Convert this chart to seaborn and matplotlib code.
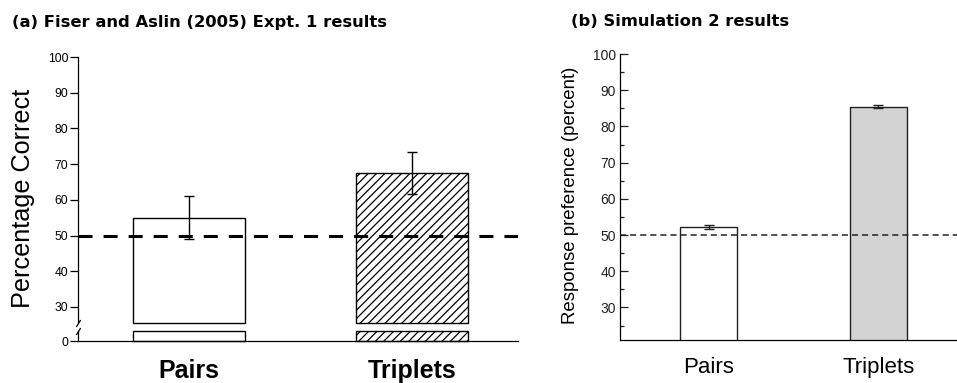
import matplotlib
matplotlib.use("Agg")
import matplotlib.pyplot as plt
import seaborn as sns
import pandas as pd
import numpy as np

# ---- data ----
categories = ["Pairs", "Triplets"]
fiser_means = [55.0, 67.5]
fiser_errs = [6.0, 6.0]
sim_means = [52.2, 85.4]
sim_errs = [0.5, 0.4]
left_yticks = [30, 40, 50, 60, 70, 80, 90, 100]
right_yticks = [30, 40, 50, 60, 70, 80, 90, 100]
chance = 50

sns.set_theme(style="ticks")
plt.rcParams["font.family"] = ["Liberation Sans", "DejaVu Sans"]
plt.rcParams["hatch.linewidth"] = 0.9
plt.rcParams["axes.linewidth"] = 0.9
for k in ("text.color", "axes.labelcolor", "xtick.color", "ytick.color", "axes.edgecolor"):
    plt.rcParams[k] = "black"

W, H = 957, 383
fig = plt.figure(figsize=(W / 100, H / 100), dpi=100)


def px_axes(x0, y0, x1, y1):
    return fig.add_axes([x0 / W, 1 - y1 / H, (x1 - x0) / W, (y1 - y0) / H])


df_a = pd.DataFrame({"cond": categories, "value": fiser_means})
df_b = pd.DataFrame({"cond": categories, "value": sim_means})

# ---------------- panel (a): broken axis ----------------
BREAK_LO = 25.5
LOW_TOP = 2.8
ax_top = px_axes(78, 57, 518, 323)
ax_bot = px_axes(78, 331, 518, 341)

for ax in (ax_top, ax_bot):
    sns.barplot(data=df_a, x="cond", y="value", hue="cond", palette=["white", "white"],
                legend=False, width=0.5, saturation=1, edgecolor="black", linewidth=1.0,
                errorbar=None, ax=ax)
    ax.set_xlim(-0.498, 1.475)

for i, p in enumerate(ax_top.patches):
    h = p.get_height()
    p.set_y(BREAK_LO)
    p.set_height(h - BREAK_LO)
    p.set_clip_on(False)
    if i == 1:
        p.set_hatch("////")
for i, p in enumerate(ax_bot.patches):
    p.set_height(LOW_TOP)
    p.set_clip_on(False)
    if i == 1:
        p.set_hatch("////")

ax_top.errorbar(x=[0, 1], y=fiser_means, yerr=fiser_errs, fmt="none", ecolor="black",
                elinewidth=1.0, capsize=3.6, capthick=1.0, zorder=5)
ax_top.axhline(chance, color="black", lw=2.2, ls=(0, (4.6, 3.6)), zorder=6)

ax_top.set_ylim(BREAK_LO, 100)
ax_bot.set_ylim(0, LOW_TOP)
ax_top.set_yticks(left_yticks)
ax_bot.set_yticks([0])
for ax in (ax_top, ax_bot):
    ax.tick_params(axis="y", direction="out", length=6, width=0.9, pad=1, labelsize=8.7,
                   colors="black")
    ax.spines["top"].set_visible(False)
    ax.spines["right"].set_visible(False)
    ax.set_xlabel("")
    ax.set_ylabel("")
    ax.set_facecolor("white")
ax_top.spines["bottom"].set_visible(False)
ax_top.tick_params(axis="x", bottom=False, labelbottom=False)
ax_bot.tick_params(axis="x", length=0, pad=13, labelsize=18)
for t in ax_bot.get_xticklabels():
    t.set_fontweight("bold")

ax_top.set_ylabel("Percentage Correct", fontsize=18.2)
ax_top.yaxis.set_label_coords(-0.098, 0.47)

# break marks
slash = [(-1, -1.6), (1, 1.6)]
for ax, yy in ((ax_top, 0), (ax_bot, 1)):
    ax.plot([0], [yy], transform=ax.transAxes, marker=slash, markersize=5,
            linestyle="none", color="black", mec="black", mew=0.9, clip_on=False)

# ---------------- panel (b) ----------------
ax_r = px_axes(620, 54, 957, 340)
sns.barplot(data=df_b, x="cond", y="value", hue="cond", palette=["white", "#d3d3d3"],
            legend=False, width=0.333, saturation=1, edgecolor="#222222", linewidth=1.0,
            errorbar=None, ax=ax_r)
ax_r.errorbar(x=[0, 1], y=sim_means, yerr=sim_errs, fmt="none", ecolor="#222222",
              elinewidth=1.0, capsize=3.6, capthick=1.0, zorder=5)
ax_r.axhline(chance, color="#222222", lw=1.1, ls=(0, (4.0, 2.6)), zorder=6)
ax_r.set_xlim(-0.523, 1.464)
ax_r.set_ylim(21, 100)
ax_r.set_yticks(right_yticks)
ax_r.set_yticks(np.arange(25, 100, 10), minor=True)
ax_r.tick_params(axis="y", which="major", direction="in", length=6, width=0.9, pad=3,
                 labelsize=10, colors="#222222")
ax_r.tick_params(axis="y", which="minor", direction="in", length=3, width=0.9,
                 colors="#222222")
ax_r.tick_params(axis="x", length=0, pad=12, labelsize=16)
ax_r.spines["top"].set_visible(False)
ax_r.spines["right"].set_visible(False)
ax_r.set_xlabel("")
ax_r.set_ylabel("Response preference (percent)", fontsize=13.4)
ax_r.yaxis.set_label_coords(-0.122, 0.505)
ax_r.set_facecolor("white")

# ---------------- titles ----------------
fig.text(12 / W, 1 - 22 / H, "(a) Fiser and Aslin (2005) Expt. 1 results",
         fontsize=11.8, fontweight="bold", family=["DejaVu Sans"], ha="left", va="center")
fig.text(571 / W, 1 - 22 / H, "(b) Simulation 2 results",
         fontsize=11.8, fontweight="bold", family=["DejaVu Sans"], ha="left", va="center")

fig.savefig("out.png", dpi=100, facecolor="white")
